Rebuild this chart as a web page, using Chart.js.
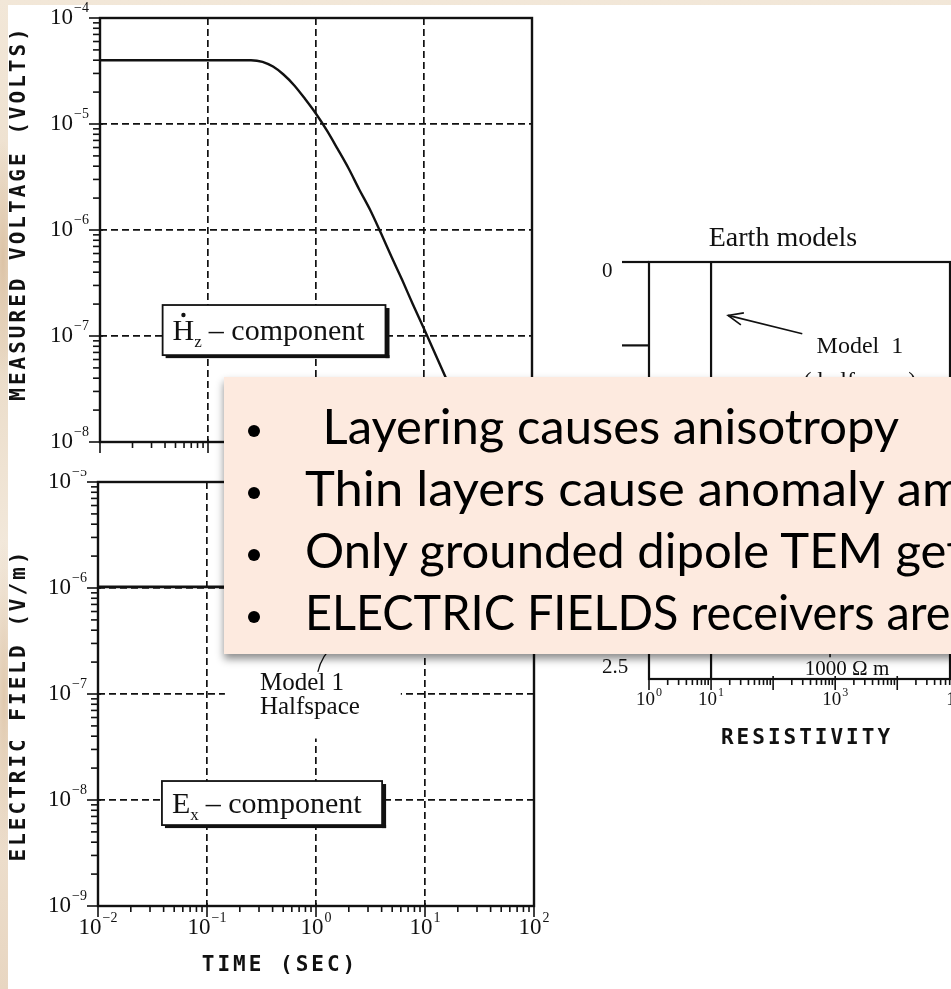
<!DOCTYPE html>
<html>
<head>
<meta charset="utf-8">
<script src="https://cdn.jsdelivr.net/npm/chart.js@4.4.1/dist/chart.umd.min.js"></script>
<style>
  html, body { margin: 0; padding: 0; }
  body {
    width: 951px; height: 989px; overflow: hidden; position: relative;
    background:
      radial-gradient(ellipse 14px 120px at 3px 260px, #dcc3a6 0, rgba(220,195,166,0) 100%),
      radial-gradient(ellipse 14px 160px at 4px 700px, #e0c9ae 0, rgba(224,201,174,0) 100%),
      linear-gradient(180deg, #f2e7d8, #eadbc7 35%, #f4ebdf 60%, #e8d6c1);
  }
  #sheet { position: absolute; left: 8px; top: 5px; right: 0; bottom: 0; background: #fff; }
  canvas { position: absolute; }
  #hz { left: 0; top: 0; }
  #ex { left: 0; top: 470px; }
  #earth { left: 560px; top: 200px; }
  #notes {
    position: absolute; left: 224px; top: 377px; width: 780px; height: 277px;
    background: #fdeadf; box-shadow: 0 5px 8px rgba(0,0,0,0.45); z-index: 5;
    font-family: Lato, "Open Sans", sans-serif; font-size: 49px; color: #000;
  }
  #notes .row { position: absolute; left: 0; height: 62px; line-height: 62px; white-space: pre; width: 780px; }
  #notes .dot { position: absolute; left: 24px; top: 31px; width: 12px; height: 12px; border-radius: 50%; background: #000; }
  #notes .txt { position: absolute; left: 81px; top: 0; transform-origin: 0 50%; }
</style>
</head>
<body>
<div id="sheet"></div>
<canvas id="hz" width="560" height="470"></canvas>
<canvas id="ex" width="560" height="519"></canvas>
<canvas id="earth" width="391" height="560"></canvas>
<div id="notes">
  <div class="row" style="top:17px"><span class="dot"></span><span class="txt" style="left:86px"> Layering causes anisotropy</span></div>
  <div class="row" style="top:79px"><span class="dot"></span><span class="txt" style="transform:scaleX(1.035)">Thin layers cause anomaly amplitude changes</span></div>
  <div class="row" style="top:141px"><span class="dot"></span><span class="txt">Only grounded dipole TEM gets the signal</span></div>
  <div class="row" style="top:203px"><span class="dot"></span><span class="txt" style="transform:scaleX(0.955)">ELECTRIC FIELDS receivers are needed</span></div>
</div>
<script>
const ink = '#111';
const serif = '"Liberation Serif", "DejaVu Serif", serif';
const plotter = '"DejaVu Sans Mono", "Liberation Mono", monospace';

// dHz/dt over the halfspace (time s, volts)
const hzTime  = [0.01, 0.1, 0.25, 0.32, 0.4, 0.5, 0.63, 0.79, 1, 1.26, 1.58, 2, 2.5, 3.2, 4, 5, 6.3, 7.9, 10, 16, 32];
const hzVolts = [4.0e-5, 4.0e-5, 4.0e-5, 3.86e-5, 3.48e-5, 2.93e-5, 2.31e-5, 1.73e-5, 1.25e-5, 8.7e-6,
                 5.85e-6, 3.82e-6, 2.44e-6, 1.52e-6, 9.3e-7, 5.6e-7, 3.35e-7, 1.98e-7, 1.17e-7, 4.0e-8, 7.8e-9];

// Ex over the halfspace (time s, V/m)
const exTime  = [0.01, 0.03, 0.1, 0.3, 1, 3, 10, 30, 100];
const exField = [1.025e-6, 1.025e-6, 1.025e-6, 1.025e-6, 1.025e-6, 1.025e-6, 1.025e-6, 1.025e-6, 1.025e-6];

// earth model 1: 10 ohm-m halfspace (resistivity, depth)
const model1Rho   = [10, 10];
const model1Depth = [0, 2.5];

// tick labels
const timeExps   = [-2, -1, 0, 1, 2];
const voltExps   = [-8, -7, -6, -5, -4];
const fieldExps  = [-9, -8, -7, -6, -5];
const rhoExps    = [0, 1, 3, 5];
const depthTicks = [0, 0.5, 1, 1.5, 2];
const depthLabelValues = [0, 2.5];
const depthLabels      = ['0', '2.5'];

// annotation anchors, in data units
const hzBox = { t0: 0.038, t1: 4.4, v0: 1.96e-7, v1: 6.6e-8 };
const exBox = { t0: 0.0386, t1: 4.04, v0: 1.51e-8, v1: 5.8e-9 };
const exNote = { t0: 0.146, t1: 6.0, v0: 2.2e-7, v1: 3.8e-8, tx: 0.306, v1st: 1.27e-7, v2nd: 7.5e-8 };

const isDecade = v => Math.abs(Math.log10(v) - Math.round(Math.log10(v))) < 1e-6;

function decadeTicks(min, max) {
  const out = [];
  for (let e = Math.floor(Math.log10(min)); e <= Math.ceil(Math.log10(max)); e++) {
    for (let m = 1; m < 10; m++) {
      const v = Number((m * Math.pow(10, e)).toPrecision(6));
      if (v >= min * 0.999999 && v <= max * 1.000001) out.push(v);
    }
  }
  return out;
}

function logAxis(min, max, gridOn) {
  return {
    type: 'logarithmic', min, max,
    afterBuildTicks: scale => { scale.ticks = decadeTicks(min, max).map(v => ({ value: v })); },
    ticks: { display: false },
    border: { display: false, dash: [7, 4] },
    grid: {
      display: gridOn, drawTicks: false, color: ink,
      lineWidth: c => (c.tick && isDecade(c.tick.value) && c.tick.value > min * 1.01 && c.tick.value < max * 0.99) ? 1.7 : 0
    }
  };
}

function frame(ctx, a, w) {
  ctx.save();
  ctx.strokeStyle = ink; ctx.lineWidth = w || 2.4;
  ctx.strokeRect(a.left, a.top, a.right - a.left, a.bottom - a.top);
  ctx.restore();
}

function tickMarks(ctx, scale, a, side, minor, major) {
  ctx.save();
  ctx.strokeStyle = ink; ctx.lineWidth = 1.6;
  for (const t of scale.ticks) {
    const p = scale.getPixelForValue(t.value);
    const len = isDecade(t.value) ? major : minor;
    ctx.beginPath();
    if (side === 'left') {
      if (p < a.top - 1 || p > a.bottom + 1) continue;
      ctx.moveTo(a.left - len, p); ctx.lineTo(a.left + (isDecade(t.value) ? 3 : 0), p);
    } else {
      if (p < a.left - 1 || p > a.right + 1) continue;
      ctx.moveTo(p, a.bottom + len); ctx.lineTo(p, a.bottom - (isDecade(t.value) ? 3 : 0));
    }
    ctx.stroke();
  }
  ctx.restore();
}

function pow10Label(ctx, x, y, exp, align, size) {
  const sup = String(exp).replace('-', '\u2212');
  const supSize = Math.round(size * 0.62);
  ctx.save();
  ctx.fillStyle = ink; ctx.textAlign = 'left'; ctx.textBaseline = 'middle';
  ctx.font = `${size}px ${serif}`;
  const wb = ctx.measureText('10').width;
  ctx.font = `${supSize}px ${serif}`;
  const ws = ctx.measureText(sup).width;
  const w = wb + 1 + ws;
  const x0 = align === 'right' ? x - w : align === 'center' ? x - w / 2 : x;
  ctx.font = `${size}px ${serif}`;
  ctx.fillText('10', x0, y);
  ctx.font = `${supSize}px ${serif}`;
  ctx.fillText(sup, x0 + wb + 1, y - size * 0.4);
  ctx.restore();
}

function label(ctx, s, x, y, font, align, baseline) {
  ctx.save();
  ctx.fillStyle = ink; ctx.font = font;
  ctx.textAlign = align || 'left'; ctx.textBaseline = baseline || 'middle';
  ctx.fillText(s, x, y);
  ctx.restore();
}

function plotterText(ctx, s, x, y, rotate) {
  ctx.save();
  ctx.translate(x, y);
  if (rotate) ctx.rotate(-Math.PI / 2);
  ctx.fillStyle = ink;
  ctx.font = `bold 21px ${plotter}`;
  ctx.letterSpacing = '3px';
  ctx.textAlign = 'center'; ctx.textBaseline = 'middle';
  ctx.fillText(s, 0, 0);
  ctx.restore();
}

function componentBox(ctx, xs, ys, box, main, sub, dotted) {
  const x0 = xs.getPixelForValue(box.t0), x1 = xs.getPixelForValue(box.t1);
  const y0 = ys.getPixelForValue(box.v0), y1 = ys.getPixelForValue(box.v1);
  ctx.save();
  ctx.fillStyle = '#fff';
  ctx.fillRect(x0, y0, x1 - x0, y1 - y0);
  ctx.fillStyle = ink;
  ctx.fillRect(x1, y0 + 3, 4, y1 - y0);
  ctx.fillRect(x0 + 3, y1, x1 - x0 + 1, 3);
  ctx.strokeStyle = ink; ctx.lineWidth = 1.8;
  ctx.strokeRect(x0, y0, x1 - x0, y1 - y0);
  const cy = (y0 + y1) / 2 + 2;
  let cx = x0 + 10;
  ctx.textBaseline = 'middle'; ctx.textAlign = 'left';
  ctx.font = `30px ${serif}`;
  ctx.fillText(main, cx, cy);
  const wm = ctx.measureText(main).width;
  if (dotted) { ctx.beginPath(); ctx.arc(cx + wm / 2, cy - 17, 2.2, 0, Math.PI * 2); ctx.fill(); }
  cx += wm;
  ctx.font = `17px ${serif}`;
  ctx.fillText(sub, cx, cy + 10);
  cx += ctx.measureText(sub).width + 7;
  ctx.font = `30px ${serif}`;
  ctx.fillText('\u2013 component', cx, cy);
  ctx.restore();
}

const hzDecor = {
  id: 'hzDecor',
  afterDraw(chart) {
    const { ctx, chartArea: a, scales: { x, y } } = chart;
    frame(ctx, a);
    tickMarks(ctx, x, a, 'bottom', 6, 11);
    tickMarks(ctx, y, a, 'left', 7, 11);
    voltExps.forEach(e => pow10Label(ctx, a.left - 11, y.getPixelForValue(Math.pow(10, e)), e, 'right', 23));
    plotterText(ctx, 'MEASURED VOLTAGE (VOLTS)', 20, (a.top + a.bottom) / 2 - 17, true);
    componentBox(ctx, x, y, hzBox, 'H', 'z', true);
  }
};

const exDecor = {
  id: 'exDecor',
  afterDraw(chart) {
    const { ctx, chartArea: a, scales: { x, y } } = chart;
    frame(ctx, a);
    tickMarks(ctx, x, a, 'bottom', 6, 11);
    tickMarks(ctx, y, a, 'left', 7, 11);
    fieldExps.forEach(e => pow10Label(ctx, a.left - 11, y.getPixelForValue(Math.pow(10, e)), e, 'right', 23));
    timeExps.forEach(e => pow10Label(ctx, x.getPixelForValue(Math.pow(10, e)), a.bottom + 22, e, 'center', 23));
    plotterText(ctx, 'TIME (SEC)', a.left + 182, a.bottom + 60, false);
    plotterText(ctx, 'ELECTRIC FIELD (V/m)', 20, (a.top + a.bottom) / 2 + 11, true);
    componentBox(ctx, x, y, exBox, 'E', 'x', false);

    // halfspace note, cleared out of the grid
    const n = exNote;
    const mx0 = x.getPixelForValue(n.t0), mx1 = x.getPixelForValue(n.t1);
    const my0 = y.getPixelForValue(n.v0), my1 = y.getPixelForValue(n.v1);
    ctx.save();
    ctx.fillStyle = '#fff';
    ctx.fillRect(mx0, my0, mx1 - mx0, my1 - my0);
    ctx.restore();
    const tx = x.getPixelForValue(n.tx);
    label(ctx, 'Model 1', tx, y.getPixelForValue(n.v1st), `25px ${serif}`);
    label(ctx, 'Halfspace', tx, y.getPixelForValue(n.v2nd), `25px ${serif}`);
    ctx.save();
    ctx.strokeStyle = ink; ctx.lineWidth = 1.3;
    ctx.beginPath();
    ctx.moveTo(x.getPixelForValue(1.04), y.getPixelForValue(1.62e-7));
    ctx.quadraticCurveTo(x.getPixelForValue(1.12), y.getPixelForValue(2.3e-7), x.getPixelForValue(1.5), y.getPixelForValue(3.0e-7));
    ctx.stroke();
    ctx.restore();
  }
};

const earthDecor = {
  id: 'earthDecor',
  afterDraw(chart) {
    const { ctx, chartArea: a, scales: { x, y } } = chart;
    frame(ctx, a, 2.2);
    ctx.save();
    ctx.strokeStyle = ink; ctx.lineWidth = 2.2;
    depthTicks.forEach(d => {
      const p = y.getPixelForValue(d);
      ctx.beginPath(); ctx.moveTo(a.left - 27, p); ctx.lineTo(a.left, p); ctx.stroke();
    });
    ctx.restore();
    tickMarks(ctx, x, a, 'bottom', 6, 11);
    depthLabelValues.forEach((d, i) => {
      const p = y.getPixelForValue(d);
      label(ctx, depthLabels[i], a.left - 47, p - 1, `21px ${serif}`, 'left', i === 0 ? 'top' : 'bottom');
    });
    rhoExps.forEach(e => pow10Label(ctx, x.getPixelForValue(Math.pow(10, e)), a.bottom + 21, e, 'center', 19));
    plotterText(ctx, 'RESISTIVITY', a.left + 158, a.bottom + 60, false);
    label(ctx, 'Earth models', a.left + 134, a.top - 23, `28px ${serif}`, 'center');

    label(ctx, 'Model  1', x.getPixelForValue(2500), y.getPixelForValue(0.51), `24px ${serif}`, 'center');
    label(ctx, '( halfspace)', x.getPixelForValue(2500), y.getPixelForValue(0.72), `24px ${serif}`, 'center');
    label(ctx, '1000 \u03A9 m', x.getPixelForValue(1550), y.getPixelForValue(2.44), `21px ${serif}`, 'center');

    ctx.save();
    ctx.strokeStyle = ink; ctx.lineWidth = 1.6;
    const ax0 = x.getPixelForValue(295), ay0 = y.getPixelForValue(0.43);
    const ax1 = x.getPixelForValue(18.8), ay1 = y.getPixelForValue(0.32);
    ctx.beginPath(); ctx.moveTo(ax0, ay0); ctx.lineTo(ax1, ay1); ctx.stroke();
    const ang = Math.atan2(ay0 - ay1, ax0 - ax1);
    ctx.beginPath();
    ctx.moveTo(ax1 + 16 * Math.cos(ang - 0.4), ay1 + 16 * Math.sin(ang - 0.4));
    ctx.lineTo(ax1, ay1);
    ctx.lineTo(ax1 + 16 * Math.cos(ang + 0.4), ay1 + 16 * Math.sin(ang + 0.4));
    ctx.stroke();
    const lx = x.getPixelForValue(826);
    ctx.beginPath(); ctx.moveTo(lx, y.getPixelForValue(2.21)); ctx.lineTo(lx, y.getPixelForValue(2.37)); ctx.stroke();
    ctx.restore();
  }
};

const baseOptions = pad => ({
  responsive: false, animation: false, events: [],
  layout: { padding: pad },
  plugins: { legend: { display: false }, tooltip: { enabled: false } }
});

new Chart(document.getElementById('hz'), {
  type: 'scatter',
  data: {
    datasets: [{
      data: hzTime.map((t, i) => ({ x: t, y: hzVolts[i] })),
      showLine: true, borderColor: ink, borderWidth: 2.4, pointRadius: 0,
      cubicInterpolationMode: 'monotone'
    }]
  },
  options: Object.assign(baseOptions({ left: 100, top: 18, right: 28, bottom: 28 }), {
    scales: { x: logAxis(1e-2, 1e2, true), y: logAxis(1e-8, 1e-4, true) }
  }),
  plugins: [hzDecor]
});

new Chart(document.getElementById('ex'), {
  type: 'scatter',
  data: {
    datasets: [{
      data: exTime.map((t, i) => ({ x: t, y: exField[i] })),
      showLine: true, borderColor: ink, borderWidth: 2.6, pointRadius: 0
    }]
  },
  options: Object.assign(baseOptions({ left: 98, top: 12, right: 26, bottom: 83 }), {
    scales: { x: logAxis(1e-2, 1e2, true), y: logAxis(1e-9, 1e-5, true) }
  }),
  plugins: [exDecor]
});

new Chart(document.getElementById('earth'), {
  type: 'scatter',
  data: {
    datasets: [{
      data: model1Rho.map((r, i) => ({ x: r, y: model1Depth[i] })),
      showLine: true, borderColor: ink, borderWidth: 2.2, pointRadius: 0
    }]
  },
  options: Object.assign(baseOptions({ left: 89, top: 62, right: 1, bottom: 81 }), {
    scales: {
      x: logAxis(1, Math.pow(10, 4.85), false),
      y: {
        type: 'linear', min: 0, max: 2.5, reverse: true,
        ticks: { display: false }, grid: { display: false, drawTicks: false }, border: { display: false }
      }
    }
  }),
  plugins: [earthDecor]
});
</script>
</body>
</html>
